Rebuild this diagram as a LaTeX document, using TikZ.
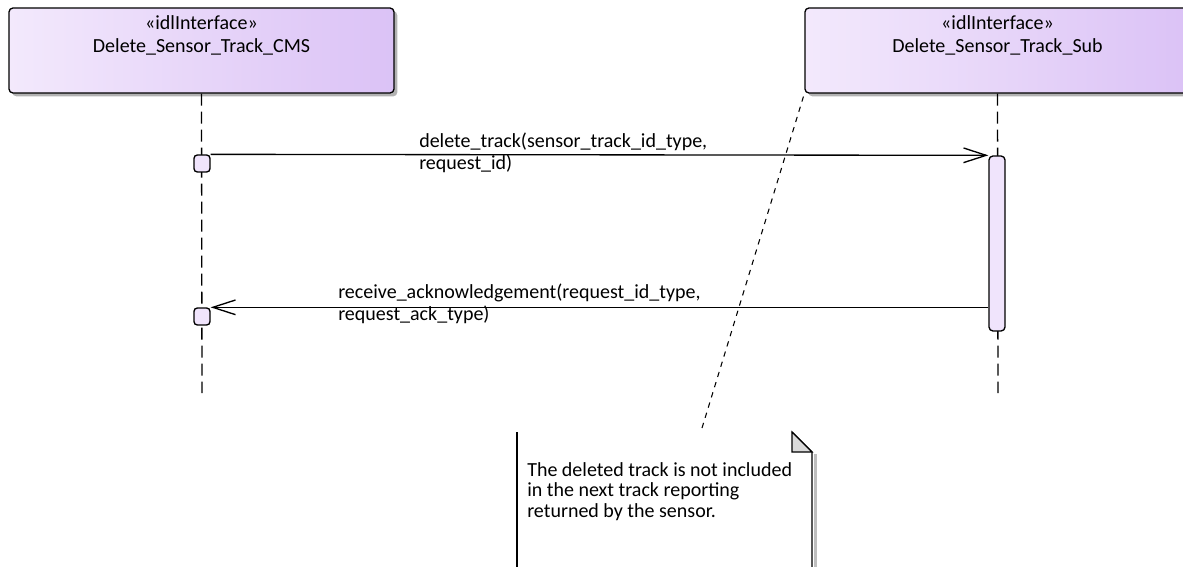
\documentclass[tikz,border=0pt]{standalone}
\usepackage{fontspec}
\setmainfont{Carlito}
\usetikzlibrary{arrows.meta,positioning,calc,shadows}

\definecolor{lilaclight}{HTML}{F3E9FC}
\definecolor{lilacdark}{HTML}{DBC2F6}
\definecolor{actfill}{HTML}{F0E4FC}
\definecolor{foldgray}{HTML}{DADADA}

\tikzset{
  lifebox/.style={draw, line width=1pt, rounded corners=3pt,
    left color=lilaclight, right color=lilacdark,
    minimum width=288.75pt, minimum height=63.75pt, inner sep=0pt,
    drop shadow={shadow xshift=2.5pt, shadow yshift=-2.5pt, fill=black, opacity=0.3}},
  boxlabel/.style={anchor=north, align=center, inner sep=0pt, font=\fontsize{15}{17.5}\selectfont},
  lifeline/.style={line width=1pt, dash pattern=on 9pt off 4.5pt},
  execbox/.style={draw, line width=1pt, fill=actfill, rounded corners=2.5pt,
    minimum width=12pt, minimum height=12.75pt, inner sep=0pt},
  actbox/.style={draw, line width=1pt, fill=actfill, rounded corners=3pt,
    minimum width=12pt, minimum height=131.25pt, inner sep=0pt},
  msg/.style={line width=1pt, -{Straight Barb[length=17pt, width=11pt, line width=1pt]}},
  msglabel/.style={anchor=north west, align=left, inner sep=0pt, font=\fontsize{15}{16.5}\selectfont},
  notelink/.style={line width=0.8pt, dash pattern=on 4pt off 4pt}
}

\begin{document}
\begin{tikzpicture}[x=0.75pt, y=-0.75pt]
  \useasboundingbox (0,0) rectangle (1183,567);
  \clip (0,0) rectangle (1183,567);

  % Lifeline heads
  \node[lifebox] (cms) at (201.5,50.5) {};
  \node[boxlabel] (cmsname) at (201.5,15) {«idlInterface»\\Delete\_Sensor\_Track\_CMS};
  \node[lifebox] (sub) at (997.5,50.5) {};
  \node[boxlabel] (subname) at (997.5,15) {«idlInterface»\\Delete\_Sensor\_Track\_Sub};

  % Lifelines
  \coordinate (cmsend) at (202,393);
  \coordinate (subend) at (998,393);
  \draw[lifeline] (cms.south) -- (cmsend);
  \draw[lifeline] (sub.south) -- (subend);

  % Executions
  \node[execbox] (call) at (202,163.5) {};
  \node[execbox] (ack) at (202,316.5) {};
  \node[actbox] (act) at (997,243.5) {};

  % Messages
  \draw[msg] (call.north east) -- (act.north west);
  \node[msglabel] (calltext) at (419,132.5) {delete\_track(sensor\_track\_id\_type,\\request\_id)};
  \draw[msg] (ack.north east -| act.west) -- (ack.north east);
  \node[msglabel] (acktext) at (338,283.5) {receive\_acknowledgement(request\_id\_type,\\request\_ack\_type)};

  % Note
  \fill[black, opacity=0.25] (814,454) rectangle (817,570);
  \fill[white] (517,432) -- (792,432) -- (812,452) -- (812,570) -- (517,570) -- cycle;
  \draw[line width=1pt] (517,432) -- (517,570);
  \draw[line width=1pt] (792,432) -- (812,452) -- (812,570);
  \draw[line width=0.8pt, fill=foldgray] (792,432) -- (792,452) -- (812,452) -- cycle;
  \node[anchor=north west, align=left, inner sep=0pt, font=\fontsize{15}{15.4}\selectfont]
    (notetext) at (527,462) {The deleted track is not included\\in the next track reporting\\returned by the sensor.};
  \coordinate (notetop) at (702,428);
  \draw[notelink] (notetop) -- (sub.south west);
\end{tikzpicture}
\end{document}
